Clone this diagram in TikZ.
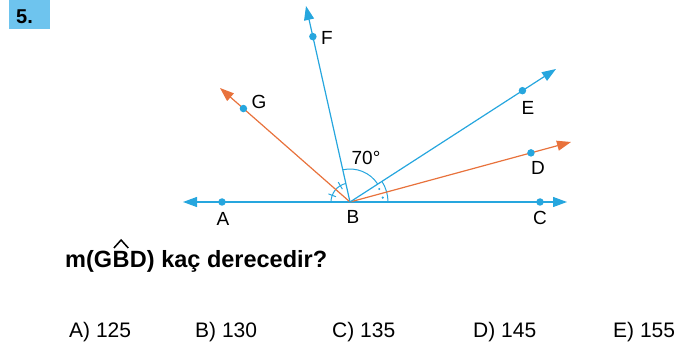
\documentclass[tikz,border=0pt]{standalone}
\usepackage{fontspec}
\setmainfont{Liberation Sans}
\usetikzlibrary{arrows.meta,calc}
\definecolor{lblue}{RGB}{38,166,222}
\definecolor{lorange}{RGB}{232,114,60}
\definecolor{boxblue}{RGB}{110,196,238}
\begin{document}
\begin{tikzpicture}[x=1pt,y=1pt,
  ray/.style={line width=1.2pt,-{Triangle[length=14pt,width=10pt]}},
  bray/.style={ray,lblue},
  oray/.style={ray,lorange},
  pdot/.style={circle,fill=lblue,inner sep=0pt,minimum size=7.5pt},
  lbl/.style={font=\fontsize{19}{19}\selectfont,inner sep=0pt,anchor=base},
  arcm/.style={lblue,line width=1pt},
  ans/.style={font=\fontsize{21}{21}\selectfont,inner sep=0pt,anchor=base west}]
\useasboundingbox (0,0) rectangle (695,348);
% number box
\node[fill=boxblue,minimum width=41pt,minimum height=29pt,inner sep=0pt,anchor=north west] (num) at (9,348) {};
\node[font=\bfseries\fontsize{20}{20}\selectfont,inner sep=0pt,anchor=base west] (numt) at (16,324) {5.};
% geometry
\coordinate (B) at (350,146);
\coordinate (Atip) at (183,146);
\coordinate (Ctip) at (567,146);
\coordinate (Ftip) at (306,342);
\coordinate (Gtip) at (220,260);
\coordinate (Etip) at (556,279);
\coordinate (Dtip) at (571,206);
% arcs
\draw[arcm] ($(B)+(102.65:33)$) arc[start angle=102.65,end angle=32.85,radius=33];
\draw[arcm] ($(B)+(32.85:38)$) arc[start angle=32.85,end angle=0,radius=38];
\draw[arcm] ($(B)+(102.65:19)$) arc[start angle=102.65,end angle=180,radius=19];
\draw[arcm] ($(B)+(120.7:15)$) -- ($(B)+(120.7:23)$);
\draw[arcm] ($(B)+(159.4:15)$) -- ($(B)+(159.4:23)$);
\fill[lblue] ($(B)+(24:32)$) circle[radius=1.2pt];
\fill[lblue] ($(B)+(7.6:33)$) circle[radius=1.2pt];
% rays
\draw[line width=1.2pt,lblue,{Triangle[length=14pt,width=10pt]}-{Triangle[length=14pt,width=10pt]}] (Atip) -- (Ctip);
\draw[oray] (B) -- (Gtip);
\draw[oray] (B) -- (Dtip);
\draw[bray] (B) -- (Ftip);
\draw[bray] (B) -- (Etip);
% points
\node[pdot] (A) at (222,146) {};
\node[pdot] (C) at (540,146) {};
\node[pdot] (F) at ($(B)!(311,311)!(Ftip)$) {};
\node[pdot] (G) at ($(B)!(243,239)!(Gtip)$) {};
\node[pdot] (E) at ($(B)!(522,258)!(Etip)$) {};
\node[pdot] (D) at ($(B)!(531,195)!(Dtip)$) {};
% labels
\node[lbl] (lA) at (223,122.5) {A};
\node[lbl] (lB) at (353,124) {B};
\node[lbl] (lC) at (540,123) {C};
\node[lbl] (lF) at (327,303) {F};
\node[lbl] (lG) at (259,239) {G};
\node[lbl] (lE) at (528,233) {E};
\node[lbl] (lD) at (538,173) {D};
\node[lbl] (l70) at (366,183) {70°};
% question
\node[font=\bfseries\fontsize{23.5}{23.5}\selectfont,inner sep=0pt,anchor=base west] (q1) at (65,81) {m(G};
\node[font=\bfseries\fontsize{23.5}{23.5}\selectfont,inner sep=0pt,anchor=base west] (qB) at (q1.base east) {B};
\node[font=\bfseries\fontsize{23.5}{23.5}\selectfont,inner sep=0pt,anchor=base west] (q2) at (qB.base east) {D) kaç derecedir?};
\draw[line width=1.5pt,line join=miter] ($(qB.base west)+(1.5,19)$) -- ($(qB.base)+(0,27)$) -- ($(qB.base east)+(-1.5,19)$);
% answers
\node[ans] (a1) at (69,11) {A) 125};
\node[ans] (a2) at (195,11) {B) 130};
\node[ans] (a3) at (332,11) {C) 135};
\node[ans] (a4) at (473,11) {D) 145};
\node[ans] (a5) at (613,11) {E) 155};
\end{tikzpicture}
\end{document}
